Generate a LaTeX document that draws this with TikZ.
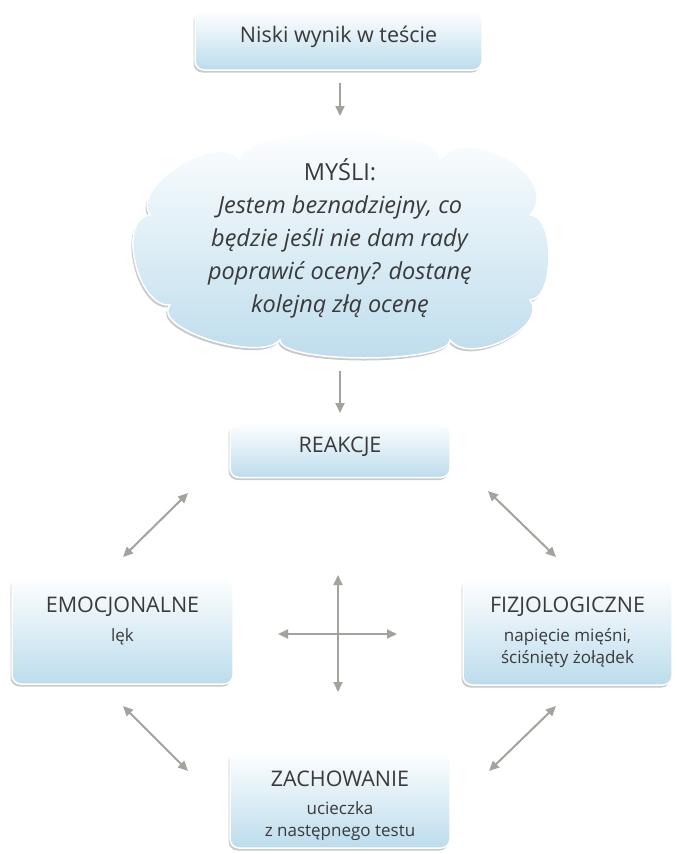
\documentclass[tikz,border=0pt]{standalone}
\usepackage{fontspec}
\setmainfont{Open Sans}
\usetikzlibrary{shadows,arrows.meta}
\definecolor{boxblue}{HTML}{BCDCEC}
\definecolor{txt}{HTML}{3A3A3A}
\definecolor{arr}{HTML}{A3A39D}
\tikzset{
  softshadow/.style={drop shadow={shadow xshift=-1.5pt, shadow yshift=-2.5pt, opacity=0.35, fill=black!60}},
  boxnode/.style={rectangle, rounded corners=9pt, top color=white, bottom color=boxblue,
    draw=white, line width=1.5pt, softshadow},
  titletext/.style={text=txt, font=\fontsize{21.5}{24}\selectfont, inner sep=0pt},
  subtext/.style={text=txt, font=\fontsize{17}{22.5}\selectfont, inner sep=0pt, align=center},
  conn/.style={draw=arr, line width=2pt, -{Triangle[width=9pt,length=10pt]}},
  biconn/.style={draw=arr, line width=2pt, {Triangle[width=9pt,length=10pt]}-{Triangle[width=9pt,length=10pt]}}
}
\begin{document}
\begin{tikzpicture}[x=1pt,y=-1pt]
\useasboundingbox (0,0) rectangle (677,854);
% boxes
\node[boxnode, minimum width=287pt, minimum height=60pt] (top) at (338.5,40) {};
\node[titletext] (toptext) at (338.5,37) {Niski wynik w teście};

% cloud
\path[top color=white, bottom color=boxblue, draw=white, line width=1.5pt, softshadow]
  (150,215) .. controls (130,185) and (220,130) .. (240,160)
  .. controls (240,124) and (440,122) .. (440,158)
  .. controls (473.3,122.7) and (563.3,179.7) .. (530,215)
  .. controls (555.3,214.3) and (555.3,299.3) .. (530,300)
  .. controls (550,326.7) and (470,366.7) .. (450,340)
  .. controls (450,364) and (280,364) .. (280,340)
  .. controls (260,363.3) and (150,328.3) .. (170,305)
  .. controls (136.7,307.7) and (116.7,217.7) .. (150,215) -- cycle;
\node[text=txt, font=\fontsize{23.5}{33}\selectfont, align=center, inner sep=0pt] (thoughts) at (340,238)
  {MYŚLI:\\ \textit{Jestem beznadziejny, co}\\ \textit{będzie jeśli nie dam rady}\\ \textit{poprawić oceny? dostanę}\\ \textit{kolejną złą ocenę}};

\node[boxnode, minimum width=220pt, minimum height=55pt] (reak) at (340,450) {};
\node[titletext] (reaktext) at (340,447) {REAKCJE};

\node[boxnode, minimum width=221pt, minimum height=108pt] (emo) at (122.5,630) {};
\node[titletext] (emotitle) at (122.5,607) {EMOCJONALNE};
\node[subtext] (emosub) at (122.5,637) {lęk};

\node[boxnode, minimum width=209pt, minimum height=108pt] (fiz) at (567.5,631) {};
\node[titletext] (fiztitle) at (567.5,607) {FIZJOLOGICZNE};
\node[subtext] (fizsub) at (567.5,648) {napięcie mięśni,\\ ściśnięty żołądek};

\node[boxnode, minimum width=220pt, minimum height=98pt] (zach) at (340,799) {};
\node[titletext] (zachtitle) at (340,779) {ZACHOWANIE};
\node[subtext] (zachsub) at (340,821) {ucieczka\\ z następnego testu};

% connector coordinates
\coordinate (a1s) at (340,83);
\coordinate (a1e) at (340,116);
\coordinate (a2s) at (340,371);
\coordinate (a2e) at (340,413);
\draw[conn] (a1s) -- (a1e);
\draw[conn] (a2s) -- (a2e);

\coordinate (d1a) at (188,493);
\coordinate (d1b) at (123,557);
\coordinate (d2a) at (488,491);
\coordinate (d2b) at (556,557);
\coordinate (d3a) at (123,706);
\coordinate (d3b) at (188,771);
\coordinate (d4a) at (556,706);
\coordinate (d4b) at (489,771);
\draw[biconn] (d1a) -- (d1b);
\draw[biconn] (d2a) -- (d2b);
\draw[biconn] (d3a) -- (d3b);
\draw[biconn] (d4a) -- (d4b);

\coordinate (cu) at (338,575);
\coordinate (cd) at (338,692);
\coordinate (cl) at (278,634);
\coordinate (cr) at (397,634);
\draw[biconn] (cu) -- (cd);
\draw[biconn] (cl) -- (cr);
\end{tikzpicture}
\end{document}
